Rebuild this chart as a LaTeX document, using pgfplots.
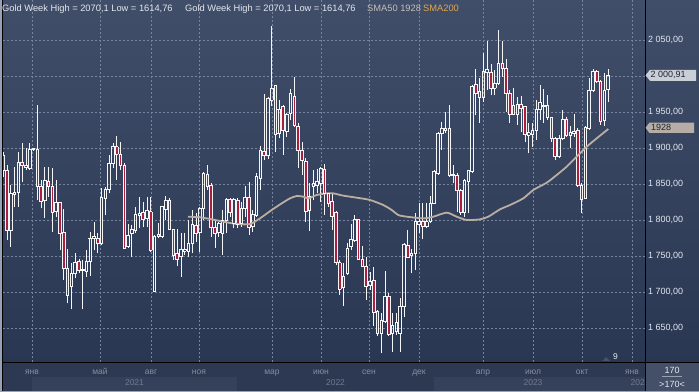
\documentclass[border=0pt]{standalone}
\usepackage{pgfplots}
\usepackage{pgfplotstable}
\pgfplotsset{compat=1.18}
\usepackage{fontspec}
\setmainfont{Liberation Sans}
\definecolor{bgtop}{RGB}{64,78,106}
\definecolor{bgbot}{RGB}{41,55,83}
\definecolor{panel}{RGB}{45,57,82}
\definecolor{band}{RGB}{53,65,91}
\definecolor{gridc}{RGB}{118,132,160}
\definecolor{cred}{RGB}{170,30,62}
\definecolor{cwhite}{RGB}{245,245,245}
\definecolor{smac}{RGB}{186,174,162}
\definecolor{txt}{RGB}{228,232,238}
\definecolor{dimtxt}{RGB}{132,142,160}
\definecolor{yeartxt}{RGB}{112,122,142}
\definecolor{smaorange}{RGB}{228,168,72}
\definecolor{smagray}{RGB}{196,190,184}
\definecolor{tagA}{RGB}{202,206,214}
\definecolor{tagB}{RGB}{182,174,166}
\definecolor{tagtxt}{RGB}{30,36,50}
\definecolor{boxc}{RGB}{68,80,104}
\definecolor{framec}{RGB}{150,162,184}
\definecolor{tric}{RGB}{70,82,106}
\definecolor{linec}{RGB}{150,160,178}

\pgfplotstableread{
k O H L C
0 1890.3 1895.0 1860.0 1869.4
1 1869.4 1876.4 1772.2 1786.1
2 1786.1 1848.6 1763.0 1837.0
3 1836.1 1874.1 1818.5 1838.4
4 1838.4 1894.9 1818.5 1879.6
5 1879.6 1906.5 1853.3 1875.9
6 1873.2 1899.5 1869.4 1876.0
7 1871.8 1906.5 1869.4 1898.2
8 1898.2 1900.5 1896.3 1899.5
9 1898.2 1959.7 1827.8 1846.3
10 1846.3 1855.6 1816.2 1825.5
11 1827.8 1874.1 1802.3 1855.6
12 1853.3 1874.1 1832.4 1846.3
13 1846.3 1871.8 1783.8 1810.2
14 1811.6 1855.6 1804.6 1824.1
15 1824.1 1825.5 1758.3 1781.5
16 1782.9 1814.8 1716.7 1732.9
17 1732.9 1759.3 1684.2 1695.8
18 1707.4 1739.8 1675.9 1725.9
19 1725.9 1754.6 1719.0 1740.7
20 1742.6 1745.4 1725.9 1730.6
21 1729.6 1744.4 1675.9 1731.5
22 1728.2 1758.3 1721.3 1743.0
23 1743.0 1783.8 1722.2 1774.5
24 1774.1 1797.7 1758.3 1776.8
25 1774.5 1781.5 1753.7 1767.6
26 1767.6 1844.0 1765.3 1831.0
27 1830.1 1846.3 1807.0 1842.6
28 1842.6 1890.3 1837.0 1878.7
29 1878.7 1906.5 1871.8 1902.8
30 1901.9 1916.7 1855.6 1891.2
31 1891.2 1908.8 1869.4 1876.4
32 1876.4 1878.7 1760.0 1760.7
33 1763.0 1794.4 1760.7 1779.2
34 1781.5 1793.1 1749.1 1787.0
35 1785.2 1818.5 1781.5 1807.9
36 1807.0 1832.4 1788.4 1809.3
37 1810.2 1825.5 1790.7 1800.9
38 1802.3 1832.4 1790.7 1813.0
39 1811.6 1832.4 1756.0 1758.3
40 1700.5 1779.2 1700.5 1776.8
41 1776.8 1795.4 1774.5 1780.1
42 1776.8 1819.9 1774.5 1818.5
43 1814.8 1833.3 1800.0 1826.9
44 1827.8 1830.1 1786.1 1787.0
45 1787.0 1787.0 1744.4 1751.4
46 1753.7 1787.0 1736.1 1745.4
47 1749.1 1781.5 1721.3 1759.3
48 1757.0 1781.5 1751.4 1759.3
49 1756.0 1800.0 1749.1 1767.6
50 1767.6 1813.9 1753.7 1794.4
51 1793.1 1809.3 1769.9 1781.5
52 1782.4 1818.5 1756.0 1816.2
53 1816.2 1867.1 1800.0 1864.8
54 1863.4 1876.4 1841.7 1846.3
55 1848.6 1850.9 1776.8 1789.8
56 1789.8 1800.0 1760.7 1781.5
57 1782.4 1797.7 1776.8 1795.4
58 1781.5 1813.9 1751.4 1800.0
59 1800.0 1830.1 1781.5 1828.7
60 1828.7 1830.1 1804.6 1810.2
61 1795.4 1830.1 1788.4 1828.7
62 1827.8 1830.1 1788.4 1794.4
63 1795.4 1825.5 1790.7 1816.2
64 1816.2 1847.2 1804.6 1831.5
65 1831.5 1853.3 1779.2 1789.8
66 1790.7 1813.9 1783.8 1808.3
67 1807.0 1864.8 1804.6 1861.1
68 1857.9 1902.8 1841.7 1897.2
69 1894.9 1975.0 1883.3 1890.3
70 1890.3 1970.4 1885.0 1969.0
71 1966.7 2070.1 1958.0 1982.9
72 1986.2 1988.0 1894.9 1919.0
73 1920.4 1966.7 1913.4 1953.7
74 1957.4 1959.7 1890.3 1925.0
75 1922.7 1948.2 1915.8 1946.8
76 1948.2 1981.5 1938.9 1975.9
77 1971.3 1998.2 1929.6 1932.0
78 1929.6 1934.3 1871.8 1897.2
79 1897.2 1908.8 1862.5 1883.3
80 1881.9 1885.7 1797.7 1811.6
81 1813.9 1850.9 1785.2 1832.4
82 1846.3 1869.4 1827.8 1850.9
83 1848.6 1870.4 1837.0 1853.3
84 1850.9 1874.1 1825.5 1871.8
85 1870.4 1877.8 1807.0 1837.0
86 1837.0 1837.5 1818.5 1823.2
87 1825.5 1837.0 1786.1 1805.6
88 1810.2 1813.0 1737.5 1740.7
89 1740.7 1744.4 1695.8 1703.7
90 1706.5 1739.8 1680.5 1722.2
91 1725.9 1767.6 1723.6 1760.7
92 1763.0 1794.4 1758.3 1773.1
93 1772.2 1807.0 1769.9 1800.9
94 1800.9 1801.4 1744.4 1745.4
95 1745.4 1764.3 1734.3 1736.1
96 1736.1 1749.1 1688.9 1708.3
97 1709.7 1728.2 1702.8 1714.3
98 1716.7 1734.3 1652.8 1671.3
99 1672.7 1675.0 1638.9 1642.6
100 1642.6 1670.4 1614.76 1661.1
101 1658.8 1729.6 1656.5 1693.5
102 1694.4 1699.1 1638.9 1641.7
103 1642.6 1670.4 1616.8 1654.2
104 1644.9 1670.4 1640.3 1657.4
105 1642.6 1691.2 1616.8 1679.6
106 1679.6 1767.6 1665.7 1766.2
107 1765.3 1786.1 1746.7 1748.1
108 1750.5 1760.2 1725.9 1753.7
109 1753.7 1809.3 1730.6 1797.7
110 1794.4 1823.2 1781.5 1797.7
111 1797.7 1823.2 1773.1 1790.7
112 1790.7 1824.1 1788.4 1797.7
113 1797.7 1833.3 1795.4 1823.2
114 1823.2 1869.4 1822.0 1867.1
115 1864.8 1922.7 1863.0 1920.4
116 1920.4 1936.6 1897.2 1927.3
117 1925.0 1950.5 1920.4 1926.9
118 1927.3 1959.7 1860.2 1862.5
119 1863.4 1876.4 1850.9 1862.5
120 1862.5 1864.8 1811.6 1841.7
121 1841.7 1842.6 1807.0 1810.2
122 1810.2 1856.5 1804.6 1855.6
123 1853.3 1869.4 1809.3 1868.5
124 1867.1 1987.5 1866.0 1986.0
125 1988.4 2009.3 1945.8 1975.9
126 1978.3 1996.8 1934.3 1969.9
127 1969.9 2031.5 1964.4 2007.0
128 2004.6 2049.1 1980.6 2008.4
129 2005.1 2016.7 1973.6 1982.9
130 1982.9 2008.4 1973.6 1989.8
131 1989.8 2063.9 1987.5 2017.6
132 2017.6 2049.1 1999.1 2010.7
133 2010.7 2023.2 1950.5 1975.9
134 1975.9 1980.6 1934.3 1947.2
135 1947.2 1982.9 1945.8 1959.7
136 1946.8 1970.4 1932.0 1961.1
137 1960.7 1972.7 1922.7 1955.1
138 1957.4 1958.3 1908.8 1919.4
139 1918.1 1934.3 1892.6 1921.3
140 1919.0 1934.3 1901.9 1924.1
141 1924.1 1966.7 1911.1 1953.7
142 1953.7 1987.5 1938.9 1963.0
143 1958.3 1982.0 1934.3 1959.7
144 1958.8 1973.6 1938.9 1942.1
145 1942.1 1943.5 1908.8 1913.4
146 1913.4 1915.8 1883.3 1888.0
147 1888.0 1918.1 1885.7 1913.4
148 1913.4 1952.8 1911.1 1939.8
149 1939.8 1943.5 1915.8 1918.1
150 1918.1 1930.6 1899.5 1921.3
151 1920.4 1946.8 1915.8 1923.6
152 1924.1 1927.3 1846.3 1848.6
153 1847.7 1850.9 1809.3 1829.2
154 1830.1 1930.6 1828.7 1928.7
155 1927.3 1996.8 1925.0 1979.6
156 1979.6 2009.3 1978.3 2006.0
157 2006.0 2008.4 1989.8 1993.1
158 1992.1 1994.5 1932.0 1936.6
159 1938.9 2003.7 1930.6 1979.6
160 1982.0 2009.3 1964.4 2000.91
}\gold

\pgfplotstableread{
k v
48.86 1804.6
52.04 1803.7
54.68 1801.4
58.20 1797.7
61.75 1794.4
65.26 1794.4
67.91 1802.3
71.01 1813.9
73.65 1823.1
75.85 1830.1
77.62 1833.3
79.37 1832.4
80.69 1830.1
82.91 1834.7
85.56 1837.0
87.30 1837.0
89.95 1833.8
93.49 1831.0
97.01 1827.8
100.53 1820.8
102.75 1813.9
104.50 1806.9
106.72 1804.6
111.11 1802.3
113.76 1804.6
117.30 1810.2
119.95 1804.6
122.59 1800.0
126.11 1800.9
128.31 1804.6
131.40 1814.8
134.05 1820.8
137.57 1830.1
140.21 1841.7
143.76 1851.8
146.40 1862.5
149.05 1874.1
151.69 1888.0
154.34 1901.8
156.98 1913.4
160.05 1926.4
}\sma

\pgfplotsset{
  ebar/.style 2 args={draw=none, mark=none, forget plot,
    error bars/.cd, y dir=plus, y explicit, error mark=none,
    error bar style={draw=#1, line width=#2}},
}

\begin{document}
\begin{tikzpicture}
\useasboundingbox (0,0) rectangle (699bp,392bp);
\fill[panel] (0,0) rectangle (699bp,392bp);
\shade[top color=bgtop, bottom color=bgbot] (0,30bp) rectangle (699bp,392bp);
\fill[band] (32bp,1.5bp) rectangle (237bp,15bp);
\fill[band] (434bp,1.5bp) rectangle (645bp,15bp);
\begin{axis}[
  at={(3bp,30bp)}, anchor=south west,
  width=642bp, height=362bp, scale only axis,
  xmin=-0.08, xmax=169.76, ymin=1602.78, ymax=2105.56,
  axis line style={draw=none},
  major tick length=0pt,
  xtick={7.59,25.58,39.07,51.77,71.09,84.05,96.75,109.97,126.90,140.13,153.10,166.33},
  xticklabels={янв,май,авг,ноя,мар,июн,сен,дек,апр,июл,окт,янв},
  xticklabel style={font=\fontsize{8.5bp}{9bp}\selectfont, text=dimtxt, anchor=base, yshift=-13bp},
  ytick={1650,1700,1750,1800,1850,1900,1950,2000,2050},
  yticklabels={{1 650,00},{1 700,00},{1 750,00},{1 800,00},{1 850,00},{1 900,00},{1 950,00},{},{2 050,00}},
  yticklabel pos=right,
  yticklabel style={font=\fontsize{9bp}{10bp}\selectfont, text=txt, anchor=west, inner sep=0pt, xshift=3bp},
  grid=major,
  major grid style={gridc, dash pattern=on 2bp off 2bp, line width=0.6bp},
]
% red bodies
\addplot[ebar={cred}{1.9bp}]
  table[x=k, y=C, y error expr={max(\thisrow{O}-\thisrow{C},0)}] {\gold};
% body edges
\addplot[ebar={cwhite}{0.9bp}]
  table[x expr={\thisrow{k}-0.34}, y expr={min(\thisrow{O},\thisrow{C})}, y error expr={abs(\thisrow{C}-\thisrow{O})}] {\gold};
\addplot[ebar={cwhite}{0.9bp}]
  table[x expr={\thisrow{k}+0.34}, y expr={min(\thisrow{O},\thisrow{C})}, y error expr={abs(\thisrow{C}-\thisrow{O})}] {\gold};
% caps
\addplot[draw=none, mark=-, mark size=1.75bp, mark options={draw=cwhite, line width=0.9bp}, forget plot]
  table[x=k, y=O] {\gold};
\addplot[draw=none, mark=-, mark size=1.75bp, mark options={draw=cwhite, line width=0.9bp}, forget plot]
  table[x=k, y=C] {\gold};
% wicks
\addplot[ebar={cwhite}{0.8bp}]
  table[x=k, y expr={max(\thisrow{O},\thisrow{C})}, y error expr={\thisrow{H}-max(\thisrow{O},\thisrow{C})}] {\gold};
\addplot[ebar={cwhite}{0.8bp}]
  table[x=k, y=L, y error expr={min(\thisrow{O},\thisrow{C})-\thisrow{L}}] {\gold};
% SMA
\addplot[smac, line width=1.8bp, smooth, tension=0.4, mark=none, forget plot] table[x=k, y=v] {\sma};
\end{axis}
\begin{scope}
\draw[black, line width=1bp] (645.5bp,0) -- (645.5bp,392bp);
\draw[black, line width=1bp] (2.5bp,29.5bp) -- (699bp,29.5bp);
\draw[black, line width=1bp] (2.5bp,0) -- (2.5bp,392bp);
\draw[framec, line width=2bp] (1bp,0) -- (1bp,392bp);
% legend text
\node[anchor=base west, inner sep=0pt, text=txt, font=\fontsize{9.3bp}{10bp}\selectfont] at (2bp,380.5bp) {Gold Week High = 2070,1 Low = 1614,76};
\node[anchor=base west, inner sep=0pt, text=txt, font=\fontsize{9.3bp}{10bp}\selectfont] at (185bp,380.5bp) {Gold Week High = 2070,1 Low = 1614,76};
\node[anchor=base west, inner sep=0pt, text=smagray, font=\fontsize{9.3bp}{10bp}\selectfont] at (367bp,380.5bp) {SMA50 1928};
\node[anchor=base west, inner sep=0pt, text=smaorange, font=\fontsize{9.3bp}{10bp}\selectfont] at (423bp,380.5bp) {SMA200};
% price tags
\fill[tagA] (645.5bp,316.7bp) -- (650bp,322.2bp) -- (696bp,322.2bp) -- (696bp,311.2bp) -- (650bp,311.2bp) -- cycle;
\node[anchor=west, inner sep=0pt, text=tagtxt, font=\fontsize{9bp}{10bp}\selectfont] at (650.5bp,316.7bp) {2 000,91};
\fill[tagB] (645.5bp,264.2bp) -- (649.5bp,269.4bp) -- (694bp,269.4bp) -- (694bp,259bp) -- (649.5bp,259bp) -- cycle;
\node[anchor=west, inner sep=0pt, text=tagtxt, font=\fontsize{9bp}{10bp}\selectfont] at (651bp,264.2bp) {1928};
% years
\node[text=yeartxt, font=\fontsize{8.5bp}{9bp}\selectfont, inner sep=0pt] at (134.5bp,9bp) {2021};
\node[text=yeartxt, font=\fontsize{8.5bp}{9bp}\selectfont, inner sep=0pt] at (335.5bp,9bp) {2022};
\node[text=yeartxt, font=\fontsize{8.5bp}{9bp}\selectfont, inner sep=0pt] at (533bp,9bp) {2023};
\node[text=yeartxt, font=\fontsize{8.5bp}{9bp}\selectfont, inner sep=0pt] at (640bp,9bp) {2024};
% marker 9
\fill[tric] (602bp,31bp) -- (610bp,31bp) -- (606bp,35bp) -- cycle;
\node[anchor=base west, inner sep=0pt, text=txt, font=\fontsize{8.5bp}{9bp}\selectfont] at (613bp,32.5bp) {9};
% bottom-right box
\fill[boxc] (646bp,1.5bp) rectangle (699bp,29bp);
\draw[black, line width=1bp] (645.5bp,0) -- (645.5bp,30bp);
\node[text=txt, font=\fontsize{9bp}{10bp}\selectfont, inner sep=0pt] at (672bp,22bp) {170};
\draw[linec, line width=0.6bp] (662bp,15.5bp) -- (682bp,15.5bp);
\node[text=txt, font=\fontsize{9bp}{10bp}\selectfont, inner sep=0pt] at (672bp,8bp) {>170<};
\draw[framec, line width=1.5bp] (0,0.75bp) -- (699bp,0.75bp);
\end{scope}
\end{tikzpicture}
\end{document}
